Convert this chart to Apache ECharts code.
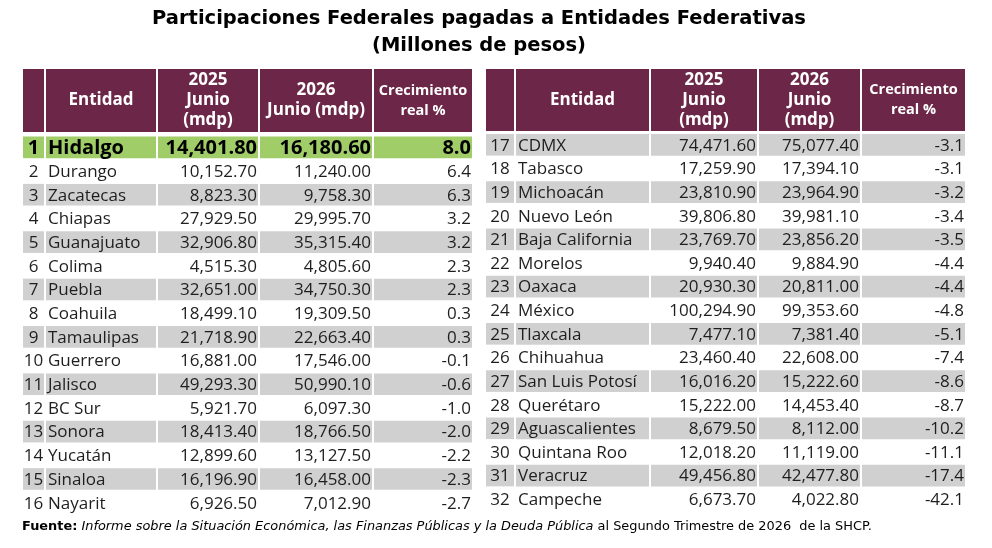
<!DOCTYPE html>
<html>
<head>
<meta charset="utf-8">
<script src="https://cdn.jsdelivr.net/npm/echarts@6/dist/echarts.min.js"></script>
<style>
html, body { margin: 0; padding: 0; background: #fff; }
#main { width: 992px; height: 548px; }
</style>
</head>
<body>
<div id="main"></div>
<script>
// datos (SHCP, Segundo Trimestre 2026)
var entidades = ['Hidalgo', 'Durango', 'Zacatecas', 'Chiapas', 'Guanajuato', 'Colima', 'Puebla', 'Coahuila',
    'Tamaulipas', 'Guerrero', 'Jalisco', 'BC Sur', 'Sonora', 'Yucatán', 'Sinaloa', 'Nayarit',
    'CDMX', 'Tabasco', 'Michoacán', 'Nuevo León', 'Baja California', 'Morelos', 'Oaxaca', 'México',
    'Tlaxcala', 'Chihuahua', 'San Luis Potosí', 'Querétaro', 'Aguascalientes', 'Quintana Roo', 'Veracruz', 'Campeche'];
var junio2025 = [14401.8, 10152.7, 8823.3, 27929.5, 32906.8, 4515.3, 32651.0, 18499.1,
    21718.9, 16881.0, 49293.3, 5921.7, 18413.4, 12899.6, 16196.9, 6926.5,
    74471.6, 17259.9, 23810.9, 39806.8, 23769.7, 9940.4, 20930.3, 100294.9,
    7477.1, 23460.4, 16016.2, 15222.0, 8679.5, 12018.2, 49456.8, 6673.7];
var junio2026 = [16180.6, 11240.0, 9758.3, 29995.7, 35315.4, 4805.6, 34750.3, 19309.5,
    22663.4, 17546.0, 50990.1, 6097.3, 18766.5, 13127.5, 16458.0, 7012.9,
    75077.4, 17394.1, 23964.9, 39981.1, 23856.2, 9884.9, 20811.0, 99353.6,
    7381.4, 22608.0, 15222.6, 14453.4, 8112.0, 11119.0, 42477.8, 4022.8];
var crecimiento = [8.0, 6.4, 6.3, 3.2, 3.2, 2.3, 2.3, 0.3, 0.3, -0.1, -0.6, -1.0, -2.0, -2.2, -2.3, -2.7,
    -3.1, -3.1, -3.2, -3.4, -3.5, -4.4, -4.4, -4.8, -5.1, -7.4, -8.6, -8.7, -10.2, -11.1, -17.4, -42.1];
var encabezadoIzq = ['', 'Entidad', '2025\nJunio\n(mdp)', '2026\nJunio (mdp)', 'Crecimiento\nreal %'];
var encabezadoDer = ['', 'Entidad', '2025\nJunio\n(mdp)', '2026\nJunio\n(mdp)', 'Crecimiento\nreal %'];

var myChart = echarts.init(document.getElementById('main'));

var FONT = '"Open Sans", sans-serif';
var FONT_ANCHA = '"DejaVu Sans", sans-serif';
var GUINDA = '#6c2748';
var GRIS = '#d0d0d0';
var VERDE = '#a0cd68';

// bordes de columna de cada tabla (px dentro del grid)
var colsIzq = [0, 23, 135, 237, 351, 451];
var colsDer = [0, 30, 165, 273, 376, 481];

function fmt(v) {
    return v.toLocaleString('en-US', { minimumFractionDigits: 2, maximumFractionDigits: 2 });
}

function makeBody(offset, cols)
{
    return function (params, api) {
        var i = params.dataIndex;
        var k = offset + i;
        var c = api.coord([0, api.value(1)]);
        var h = api.size([0, 1])[1];
        var y0 = c[1] - h / 2;
        var x0 = c[0];
        var top = (k === 0);
        var fill = top ? VERDE : (i % 2 === 0 ? GRIS : '#fff');
        var children = [];
        for (var j = 0; j < cols.length - 1; j++) {
            children.push({
                type: 'rect',
                shape: { x: x0 + cols[j] + 1, y: y0 + 1, width: cols[j + 1] - cols[j] - 2, height: h - 2 },
                style: { fill: fill }
            });
        }
        var base = {
            fill: top ? '#000' : '#1e1e1e',
            fontFamily: FONT,
            fontSize: top ? 20 : 17,
            fontWeight: top ? 'bold' : 'normal',
            verticalAlign: 'middle'
        };
        var texts = [
            { text: String(k + 1), x: x0 + (cols[0] + cols[1]) / 2, align: 'center' },
            { text: entidades[k], x: x0 + cols[1] + 3, align: 'left' },
            { text: fmt(junio2025[k]), x: x0 + cols[3] - 2, align: 'right' },
            { text: fmt(junio2026[k]), x: x0 + cols[4] - 2, align: 'right' },
            { text: crecimiento[k].toFixed(1), x: x0 + cols[5] - 2, align: 'right' }
        ];
        texts.forEach(function (t) {
            children.push({
                type: 'text',
                style: Object.assign({}, base, { text: t.text, x: t.x, y: c[1] + 1, align: t.align })
            });
        });
        return { type: 'group', children: children };
    };
}

function makeHead(labels, cols)
{
    return function (params, api) {
        var c = api.coord([0, 0]);
        var h = api.size([0, 1])[1];
        var y0 = c[1] - h / 2;
        var x0 = c[0];
        var children = [];
        for (var j = 0; j < cols.length - 1; j++) {
            children.push({
                type: 'rect',
                shape: { x: x0 + cols[j] + 1, y: y0, width: cols[j + 1] - cols[j] - 2, height: h },
                style: { fill: GUINDA }
            });
            var small = j === 4;
            children.push({
                type: 'text',
                style: {
                    text: labels[j],
                    x: x0 + (cols[j] + cols[j + 1]) / 2,
                    y: c[1],
                    align: 'center',
                    verticalAlign: 'middle',
                    fill: '#fff',
                    fontFamily: FONT,
                    fontWeight: 'bold',
                    fontSize: small ? 14.5 : 17,
                    lineHeight: 20
                }
            });
        }
        return { type: 'group', children: children };
    };
}

function rowsData(n)
{
    var d = [];
    for (var i = 0; i < n; i++) d.push([0, i]);
    return d;
}

var grids = [
    { left: 22, top: 69, width: 451, height: 63 },
    { left: 22, top: 135.5, width: 451, height: 379 },
    { left: 485, top: 69, width: 481, height: 62 },
    { left: 485, top: 133, width: 481, height: 378 }
];
var xAxes = [], yAxes = [];
grids.forEach(function (g, idx) {
    var w = idx < 2 ? 451 : 481;
    xAxes.push({ type: 'value', gridIndex: idx, min: 0, max: w, show: false });
    yAxes.push({
        type: 'category', gridIndex: idx, inverse: true, show: false,
        data: idx % 2 === 0 ? ['h'] : entidades.slice(idx < 2 ? 0 : 16, idx < 2 ? 16 : 32)
    });
});

var option = {
    animation: false,
    grid: grids,
    xAxis: xAxes,
    yAxis: yAxes,
    graphic: [
        {
            type: 'text',
            x: 479,
            y: 5,
            style: {
                text: 'Participaciones Federales pagadas a Entidades Federativas\n(Millones de pesos)',
                align: 'center',
                fill: '#000',
                fontFamily: FONT_ANCHA,
                fontWeight: 'bold',
                fontSize: 19.5,
                lineHeight: 27
            }
        },
        {
            type: 'text',
            x: 22,
            y: 520,
            style: {
                text: '{b|Fuente:} {i|Informe sobre la Situación Económica, las Finanzas Públicas y la Deuda Pública} al Segundo Trimestre de 2026  de la SHCP.',
                fill: '#000',
                fontFamily: FONT_ANCHA,
                fontSize: 12.9,
                rich: {
                    b: { fontFamily: FONT_ANCHA, fontSize: 12.9, fontWeight: 'bold', fill: '#000' },
                    i: { fontFamily: FONT_ANCHA, fontSize: 12.9, fontStyle: 'italic', fill: '#000' }
                }
            }
        }
    ],
    series: [
        { type: 'custom', xAxisIndex: 0, yAxisIndex: 0, data: [[0, 0]], renderItem: makeHead(encabezadoIzq, colsIzq), encode: { x: 0, y: 1 } },
        { type: 'custom', xAxisIndex: 1, yAxisIndex: 1, data: rowsData(16), renderItem: makeBody(0, colsIzq), encode: { x: 0, y: 1 } },
        { type: 'custom', xAxisIndex: 2, yAxisIndex: 2, data: [[0, 0]], renderItem: makeHead(encabezadoDer, colsDer), encode: { x: 0, y: 1 } },
        { type: 'custom', xAxisIndex: 3, yAxisIndex: 3, data: rowsData(16), renderItem: makeBody(16, colsDer), encode: { x: 0, y: 1 } }
    ]
};

myChart.setOption(option);
</script>
</body>
</html>
